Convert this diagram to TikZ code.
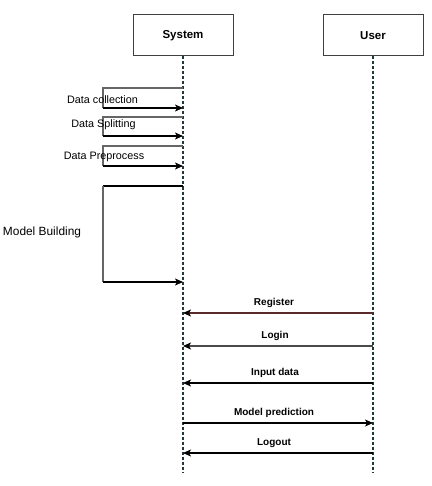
\documentclass[tikz,border=0pt]{standalone}
\usepackage{fontspec}
\setmainfont{Liberation Sans}
\usetikzlibrary{arrows.meta}
\definecolor{lifeln}{HTML}{1F3A3A}
\definecolor{regc}{HTML}{5A2A2A}
\definecolor{logc}{HTML}{4A4A4A}
\tikzset{
  actor/.style={draw=black!75, line width=1pt, minimum width=100pt, minimum height=41pt, inner sep=0pt, font=\fontsize{11.5}{13}\selectfont\bfseries},
  life/.style={draw=lifeln, line width=1.1pt, dash pattern=on 3pt off 2pt},
  msg/.style={line width=1.1pt, -{Stealth[length=8pt,width=7pt,inset=2pt,color=black]}},
  selfm/.style={draw=black!60, line width=1.1pt},
  selfb/.style={draw=black, line width=1.1pt, -{Stealth[length=8pt,width=7pt,inset=2pt]}},
  lbl/.style={font=\fontsize{10.8}{13}\selectfont, inner sep=0pt},
  mlbl/.style={font=\fontsize{10}{12}\selectfont\bfseries, inner sep=0pt}
}
\begin{document}
\begin{tikzpicture}[x=1pt,y=-1pt]
\useasboundingbox (0,0) rectangle (431,486);
% actors
\node[actor] (sys) at (183,35.5) {System};
\node[actor] (usr) at (373,35.5) {User};
\coordinate (sysend) at (183,472);
\coordinate (usrend) at (373,472);
\draw[life] (sys.south) -- (sysend);
\draw[life] (usr.south) -- (usrend);
% self messages
\coordinate (c1a) at (183,88); \coordinate (c1b) at (103,88); \coordinate (c1c) at (103,108); \coordinate (c1d) at (183,108);
\draw[selfm] (c1a) -- (c1b) -- (c1c);
\draw[selfb] (c1c) -- (c1d);
\node[lbl] (l1) at (102.5,99.5) {Data collection};
\coordinate (c2a) at (183,117); \coordinate (c2b) at (103,117); \coordinate (c2c) at (103,136); \coordinate (c2d) at (183,136);
\draw[selfm] (c2a) -- (c2b) -- (c2c);
\draw[selfb] (c2c) -- (c2d);
\node[lbl] (l2) at (103.5,125) {Data Splitting};
\coordinate (c3a) at (183,146); \coordinate (c3b) at (103,146); \coordinate (c3c) at (103,166); \coordinate (c3d) at (183,166);
\draw[selfm] (c3a) -- (c3b) -- (c3c);
\draw[selfb] (c3c) -- (c3d);
\node[lbl] (l3) at (104,156.5) {Data Preprocess};
\coordinate (c4a) at (183,186); \coordinate (c4b) at (103,186); \coordinate (c4c) at (103,282); \coordinate (c4d) at (183,282);
\draw[draw=black, line width=1.1pt] (c4a) -- (c4b);
\draw[selfm] (c4b) -- (c4c);
\draw[selfb] (c4c) -- (c4d);
\node[lbl, font=\fontsize{11.9}{14}\selectfont] (l4) at (42,232.5) {Model Building};
% messages
\coordinate (r1) at (373,313); \coordinate (r2) at (183,313);
\draw[msg, draw=regc] (r1) -- (r2);
\node[mlbl] (t1) at (274,303) {Register};
\coordinate (g1) at (373,346); \coordinate (g2) at (183,346);
\draw[msg, draw=logc] (g1) -- (g2);
\node[mlbl] (t2) at (275,336) {Login};
\coordinate (i1) at (373,383); \coordinate (i2) at (183,383);
\draw[msg, draw=black] (i1) -- (i2);
\node[mlbl] (t3) at (275,373) {Input data};
\coordinate (p1) at (183,423); \coordinate (p2) at (373,423);
\draw[msg, draw=black] (p1) -- (p2);
\node[mlbl] (t4) at (274,413) {Model prediction};
\coordinate (o1) at (373,453); \coordinate (o2) at (183,453);
\draw[msg, draw=black] (o1) -- (o2);
\node[mlbl] (t5) at (274,443) {Logout};
\end{tikzpicture}
\end{document}
